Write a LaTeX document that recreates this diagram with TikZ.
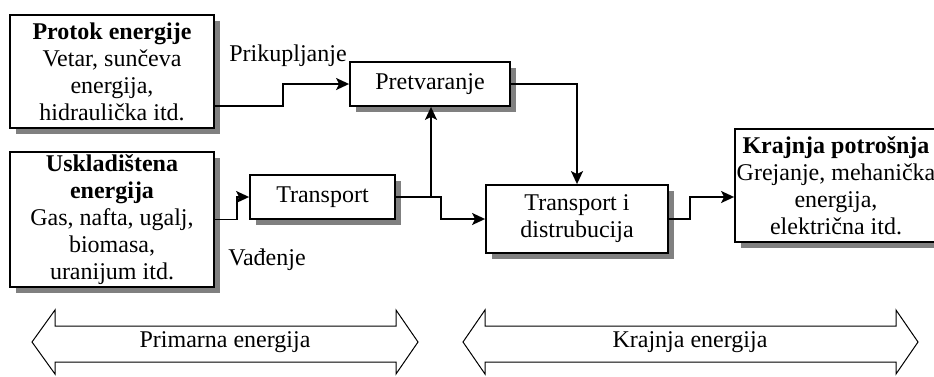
\documentclass[tikz,border=0pt]{standalone}
\usepackage{fontspec}
\setmainfont{Liberation Serif}
\usetikzlibrary{arrows.meta,shadows,calc}
\definecolor{shadowgray}{RGB}{128,128,128}
\begin{document}
\begin{tikzpicture}[x=1pt,y=-1pt,
  box/.style={draw, line width=1.8pt, fill=white, inner sep=0pt, align=center,
    font=\fontsize{24}{27}\selectfont,
    general shadow={fill=shadowgray, shadow xshift=6pt, shadow yshift=-6pt}},
  conn/.style={line width=1.8pt, -{Stealth[length=13pt,width=12pt,inset=3pt]}},
  plain/.style={line width=1.8pt},
  band/.style={draw, line width=1pt, fill=white},
  lbl/.style={font=\fontsize{24}{27}\selectfont, inner sep=0pt}
]
\useasboundingbox (0,0) rectangle (934,376);

\node[box, minimum width=204pt, minimum height=113pt] (b1) at (112,71.5)
  {\textbf{Protok energije}\\Vetar, sunčeva\\energija,\\hidraulička itd.};
\node[box, minimum width=204pt, minimum height=135pt, font=\fontsize{24}{27}\selectfont] (b2) at (112,219.5)
  {\textbf{Uskladištena}\\\textbf{energija}\\Gas, nafta, ugalj,\\biomasa,\\uranijum itd.};
\node[box, minimum width=145pt, minimum height=44pt] (tr) at (322.5,197) {Transport};
\node[box, minimum width=160pt, minimum height=44pt] (pr) at (430,84) {Pretvaranje};
\node[box, minimum width=182pt, minimum height=68pt] (td) at (577,219) {Transport i\\distrubucija};
\node[box, minimum width=202pt, minimum height=113pt] (kp) at (836,185.5)
  {\textbf{Krajnja potrošnja}\\Grejanje, mehanička\\energija,\\električna itd.};

\node[lbl] (lp) at (288,56) {Prikupljanje};
\node[lbl] (lv) at (267,260) {Vađenje};

\draw[conn] ([yshift=-34.5pt]b1.east) -| (283,84) -- (pr.west);
\draw[conn] (b2.east) -| (237,197) -- (tr.west);
\coordinate (j) at (431,197);
\draw[plain] (tr.east) -- (j);
\draw[conn] (j) -- (pr.south -| j);
\draw[conn] (j) -- (441,197) |- (td.west);
\draw[conn] (pr.east) -| (td.north);
\draw[conn] (td.east) -| (690,197) -- ([yshift=-11.5pt]kp.west);

\draw[band] (32,342) -- (55,310) -- (55,326) -- (396,326) -- (396,310) -- (418,342)
  -- (396,374) -- (396,362) -- (55,362) -- (55,374) -- cycle;
\node[lbl] (pe) at (225,342) {Primarna energija};
\draw[band] (463,342) -- (485,310) -- (485,326) -- (896,326) -- (896,310) -- (918,342)
  -- (896,374) -- (896,362) -- (485,362) -- (485,374) -- cycle;
\node[lbl] (ke) at (690,342) {Krajnja energija};
\end{tikzpicture}
\end{document}
